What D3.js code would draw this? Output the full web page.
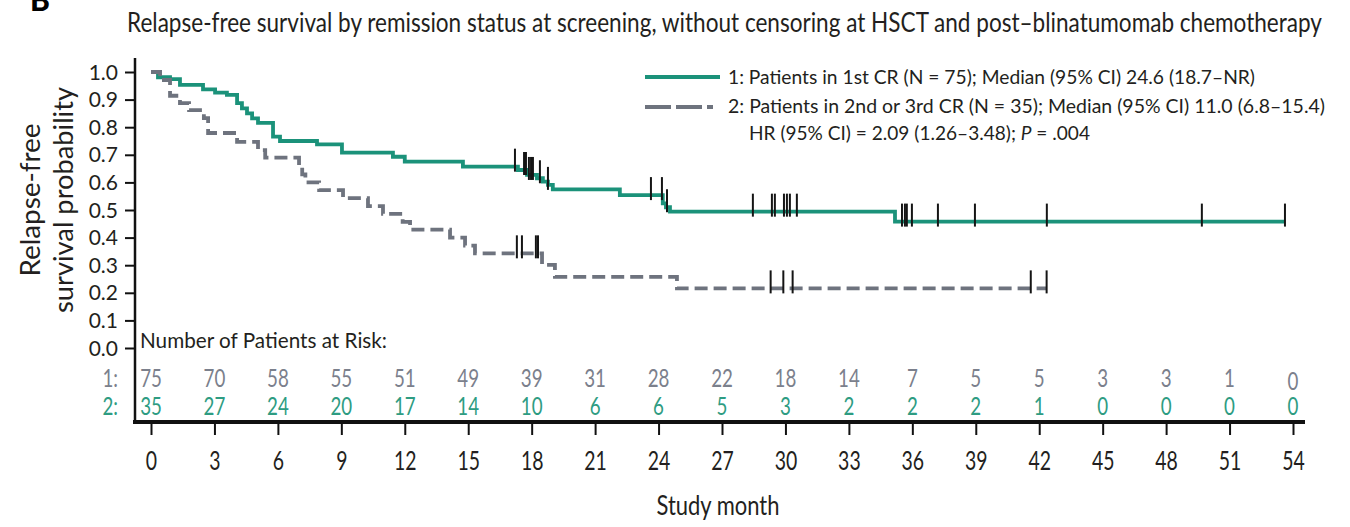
<!DOCTYPE html>
<html>
<head>
<meta charset="utf-8">
<script src="https://cdn.jsdelivr.net/npm/d3@7"></script>
<style>
  html, body { margin: 0; padding: 0; background: #fff; }
  svg { display: block; }
</style>
</head>
<body>
<svg id="chart" width="1350" height="527"></svg>
<script>
// Kaplan–Meier relapse-free survival, by remission status at screening

// Group 1: patients in 1st CR (step times in months, survival after each step)
const cr1Times = [0, 0.33, 0.9, 1.37, 2.46, 3.03, 3.59, 4.07, 4.3, 4.54, 4.78, 5.06, 5.77, 6.1, 7.85, 9.03, 11.44, 12.0, 14.75, 17.35, 17.78, 18.25, 18.53, 18.77, 19.0, 22.17, 24.2, 24.35, 24.54, 35.18];
const cr1Surv  = [1.0, 0.981, 0.974, 0.953, 0.937, 0.925, 0.917, 0.887, 0.868, 0.850, 0.832, 0.816, 0.766, 0.750, 0.738, 0.708, 0.693, 0.675, 0.657, 0.645, 0.627, 0.615, 0.603, 0.591, 0.575, 0.554, 0.524, 0.510, 0.494, 0.458];
const cr1End = 53.62;
const cr1Censored = [17.21, 17.64, 17.73, 17.87, 17.97, 18.06, 18.39, 18.77, 23.64, 24.16, 24.40, 28.46, 29.36, 29.50, 29.93, 30.07, 30.21, 30.54, 35.51, 35.65, 35.74, 35.98, 37.21, 38.96, 42.36, 49.69, 53.62];

// Group 2: patients in 2nd or 3rd CR
const cr2Times = [0, 0.43, 0.9, 1.37, 1.8, 2.5, 2.7, 4.07, 5.06, 5.4, 7.0, 7.15, 7.3, 7.95, 9.08, 10.26, 10.97, 11.9, 12.25, 14.14, 14.85, 15.32, 18.49, 19.1, 24.87];
const cr2Surv  = [1.0, 0.971, 0.914, 0.887, 0.862, 0.833, 0.779, 0.747, 0.717, 0.690, 0.657, 0.629, 0.600, 0.572, 0.543, 0.514, 0.486, 0.457, 0.429, 0.400, 0.371, 0.343, 0.301, 0.258, 0.216];
const cr2End = 42.36;
const cr2Censored = [17.3, 17.54, 18.2, 18.3, 29.3, 29.9, 30.34, 41.6, 42.35];

// Axis ticks
const monthTicks = d3.range(0, 55, 3);
const probTicks = d3.range(0, 11).map(d => d / 10);

// Number of patients at risk at each month tick
const riskRow1 = [75, 70, 58, 55, 51, 49, 39, 31, 28, 22, 18, 14, 7, 5, 5, 3, 3, 1, 0];
const riskRow2 = [35, 27, 24, 20, 17, 14, 10, 6, 6, 5, 3, 2, 2, 2, 1, 0, 0, 0, 0];

const FONT = "Lato, 'Open Sans', sans-serif";
const GREEN = "#1b927a";
const GREY = "#6e737e";
const TEXT = "#231f20";

const svg = d3.select("#chart");

const x = d3.scaleLinear().domain([0, 54]).range([151, 1293]);
const y = d3.scaleLinear().domain([0, 1]).range([348, 72]);

// condensed text helper: horizontal squeeze around the anchor point
function label(parent, o) {
  const t = parent.append("text")
    .attr("transform", `translate(${o.x},${o.y}) scale(${o.sx || 1},1)`)
    .attr("text-anchor", o.anchor || "start")
    .attr("font-family", FONT)
    .attr("font-size", o.size)
    .attr("fill", o.fill || TEXT)
    .text(o.text);
  if (o.len) t.attr("textLength", o.len).attr("lengthAdjust", "spacingAndGlyphs");
  return t;
}

// panel letter (clipped at the top edge)
svg.append("text").attr("x", 30).attr("y", 11)
  .attr("font-family", FONT).attr("font-weight", 900).attr("font-size", 30)
  .attr("fill", "#000").text("B");

// title
label(svg, { x: 127, y: 32, size: 26, len: 1195,
  text: "Relapse-free survival by remission status at screening, without censoring at HSCT and post–blinatumomab chemotherapy" });

// y axis
const yAxis = svg.append("g").attr("transform", "translate(135,0)")
  .call(d3.axisLeft(y).tickValues(probTicks).tickFormat(d3.format(".1f")).tickSize(10).tickPadding(0));
yAxis.select(".domain").remove();
yAxis.selectAll(".tick line").attr("stroke", "#111").attr("stroke-width", 2);
yAxis.selectAll(".tick text")
  .attr("x", null).attr("dy", null)
  .attr("transform", "translate(-17,7)")
  .attr("font-family", FONT).attr("font-size", 21).attr("fill", TEXT);
svg.append("line").attr("x1", 135).attr("x2", 135).attr("y1", 58).attr("y2", 424)
  .attr("stroke", "#111").attr("stroke-width", 2.5);

// y axis title
const yTitle = svg.append("g").attr("transform", "translate(0,200) rotate(-90)");
yTitle.append("text").attr("x", 0).attr("y", 40).attr("text-anchor", "middle")
  .attr("font-family", FONT).attr("font-size", 26).attr("fill", TEXT)
  .attr("textLength", 153).attr("lengthAdjust", "spacingAndGlyphs").text("Relapse-free");
yTitle.append("text").attr("x", 0).attr("y", 73).attr("text-anchor", "middle")
  .attr("font-family", FONT).attr("font-size", 26).attr("fill", TEXT)
  .attr("textLength", 226).attr("lengthAdjust", "spacingAndGlyphs").text("survival probability");

// x axis
const xAxis = svg.append("g").attr("transform", "translate(0,424)")
  .call(d3.axisBottom(x).tickValues(monthTicks).tickSize(11).tickPadding(0));
xAxis.select(".domain").remove();
xAxis.selectAll(".tick line").attr("stroke", "#111").attr("stroke-width", 2);
xAxis.selectAll(".tick text")
  .attr("y", null).attr("dy", null)
  .attr("transform", "translate(0,46) scale(0.72,1)")
  .attr("font-family", FONT).attr("font-size", 27).attr("fill", TEXT);
svg.append("line").attr("x1", 133).attr("x2", 1305).attr("y1", 422).attr("y2", 422)
  .attr("stroke", "#111").attr("stroke-width", 4);

label(svg, { x: 718, y: 515, size: 27, len: 123, anchor: "middle", text: "Study month" });

// at-risk table
label(svg, { x: 140, y: 348, size: 22, len: 247, text: "Number of Patients at Risk:" });
label(svg, { x: 118, y: 387, size: 25, sx: 0.75, anchor: "end", fill: "#7b808c", text: "1:" });
label(svg, { x: 118, y: 415, size: 25, sx: 0.75, anchor: "end", fill: "#2e9c82", text: "2:" });

svg.append("g").selectAll("text").data(riskRow1).join("text")
  .attr("transform", (d, i) => `translate(${x(monthTicks[i])},${387 + (i === riskRow1.length - 1 ? 3 : 0)}) scale(0.75,1)`)
  .attr("text-anchor", "middle").attr("font-family", FONT).attr("font-size", 25)
  .attr("fill", "#7b808c").text(d => d);
svg.append("g").selectAll("text").data(riskRow2).join("text")
  .attr("transform", (d, i) => `translate(${x(monthTicks[i])},415) scale(0.75,1)`)
  .attr("text-anchor", "middle").attr("font-family", FONT).attr("font-size", 25)
  .attr("fill", "#2e9c82").text(d => d);

// survival curves
const stepLine = d3.line().x(d => x(d[0])).y(d => y(d[1])).curve(d3.curveStepAfter);
function points(times, surv, end) {
  const p = times.map((t, i) => [t, surv[i]]);
  p.push([end, surv[surv.length - 1]]);
  return p;
}
function survAt(times, surv, t) {
  return surv[Math.max(0, d3.bisectRight(times, t) - 1)];
}

svg.append("path").datum(points(cr1Times, cr1Surv, cr1End))
  .attr("d", stepLine).attr("fill", "none").attr("stroke", GREEN).attr("stroke-width", 3.8);
svg.append("path").datum(points(cr2Times, cr2Surv, cr2End))
  .attr("d", stepLine).attr("fill", "none").attr("stroke", GREY).attr("stroke-width", 3.8)
  .attr("stroke-dasharray", "13,6");

// censoring marks
function censorMarks(times, surv, cens) {
  svg.append("g").selectAll("line").data(cens).join("line")
    .attr("x1", d => x(d)).attr("x2", d => x(d))
    .attr("y1", d => y(survAt(times, surv, d)) - 18)
    .attr("y2", d => y(survAt(times, surv, d)) + 5)
    .attr("stroke", "#151515").attr("stroke-width", 2);
}
censorMarks(cr1Times, cr1Surv, cr1Censored);
censorMarks(cr2Times, cr2Surv, cr2Censored);

// legend
const legend = svg.append("g");
legend.append("line").attr("x1", 645).attr("x2", 720).attr("y1", 77).attr("y2", 77)
  .attr("stroke", GREEN).attr("stroke-width", 3.8);
legend.append("line").attr("x1", 645).attr("x2", 713).attr("y1", 107).attr("y2", 107)
  .attr("stroke", GREY).attr("stroke-width", 3.8).attr("stroke-dasharray", "26,5");
label(legend, { x: 728, y: 84, size: 19.5, len: 527,
  text: "1: Patients in 1st CR (N = 75); Median (95% CI) 24.6 (18.7–NR)" });
label(legend, { x: 728, y: 113, size: 19.5, len: 597,
  text: "2: Patients in 2nd or 3rd CR (N = 35); Median (95% CI) 11.0 (6.8–15.4)" });
const hr = label(legend, { x: 749, y: 140, size: 19.5, len: 341, text: "" });
hr.append("tspan").text("HR (95% CI) = 2.09 (1.26–3.48); ");
hr.append("tspan").attr("font-style", "italic").text("P");
hr.append("tspan").text(" = .004");
</script>
</body>
</html>
